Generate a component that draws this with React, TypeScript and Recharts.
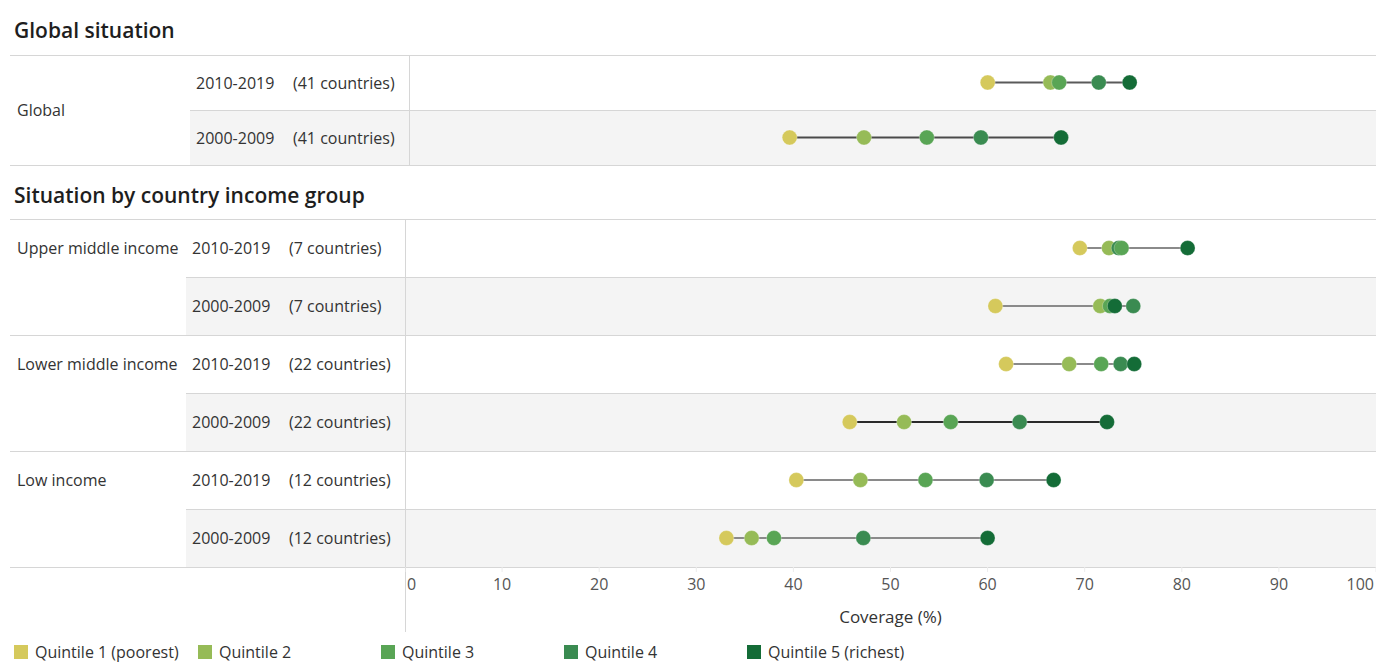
import { Scatter, ScatterChart, XAxis, YAxis } from "recharts";

const quintileNames = [
  "Quintile 1 (poorest)",
  "Quintile 2",
  "Quintile 3",
  "Quintile 4",
  "Quintile 5 (richest)",
];

const xTicks = [0, 10, 20, 30, 40, 50, 60, 70, 80, 90, 100];

// global panel
const globalGroups = ["Global"];
const globalPeriods = ["2010-2019", "2000-2009"];
const globalCountries = [41, 41];
const globalQ1 = [59.8, 39.3];
const globalQ2 = [66.3, 47.0];
const globalQ3 = [67.2, 53.5];
const globalQ4 = [71.3, 59.1];
const globalQ5 = [74.5, 67.4];

// income group panel
const incomeGroups = ["Upper middle income", "Lower middle income", "Low income"];
const incomePeriods = ["2010-2019", "2000-2009", "2010-2019", "2000-2009", "2010-2019", "2000-2009"];
const incomeCountries = [7, 7, 22, 22, 12, 12];
const incomeQ1 = [69.5, 60.8, 61.9, 45.8, 40.3, 33.1];
const incomeQ2 = [72.5, 71.6, 68.4, 51.4, 46.9, 35.7];
const incomeQ3 = [73.8, 72.6, 71.7, 56.2, 53.6, 38.0];
const incomeQ4 = [73.5, 75.0, 73.7, 63.3, 59.9, 47.2];
const incomeQ5 = [80.6, 73.1, 75.1, 72.3, 66.8, 60.0];

// styling
const quintileColors = ["#d5c95c", "#96bb57", "#59a555", "#3a8b51", "#146c37"];
const drawOrder = [0, 1, 3, 2, 4];
const globalLineTones = ["#5a5a5a", "#4a4a4a"];
const incomeLineTones = ["#8a8a8a", "#8a8a8a", "#8a8a8a", "#2a2a2a", "#8a8a8a", "#8a8a8a"];

const FONT = "'Open Sans', 'Noto Sans', sans-serif";
const TEXT = "#333";
const RULE = "#d6d6d6";
const BAND = "#f4f4f4";

type PanelProps = {
  periods: string[];
  values: number[][];
  tones: string[];
  width: number;
  rowHeight: number;
  showAxis?: boolean;
};

const renderTick = (props: any) => {
  const { x, y, payload } = props;
  const v = payload.value;
  const anchor = v === 0 ? "start" : v === 100 ? "end" : "middle";
  const dx = v === 0 ? 2 : v === 100 ? -2 : 0;
  return (
    <text x={x + dx} y={y} dy="0.71em" textAnchor={anchor} fill="#555" fontSize={16} fontFamily={FONT}>
      {v}
    </text>
  );
};

function DumbbellPanel({ periods, values, tones, width, rowHeight, showAxis }: PanelProps) {
  const n = periods.length;
  const axisHeight = showAxis ? 65 : 0;
  const series = values.map((q) => periods.map((_, i) => ({ x: q[i], y: i + 0.5 })));
  const spans = periods.map((_, i) => {
    const vals = values.map((q) => q[i]);
    return [
      { x: Math.min(...vals), y: i + 0.5 },
      { x: Math.max(...vals), y: i + 0.5 },
    ];
  });

  return (
    <ScatterChart width={width} height={n * rowHeight + axisHeight} margin={{ top: 0, right: 0, bottom: 0, left: 0 }}>
      <XAxis
        type="number"
        dataKey="x"
        domain={[0, 100]}
        ticks={xTicks}
        interval={0}
        hide={!showAxis}
        height={axisHeight}
        axisLine={false}
        tickLine={{ stroke: "#ececec" }}
        tickSize={5}
        tickMargin={7}
        tick={renderTick}
        label={{
          value: "Coverage (%)",
          position: "insideBottom",
          offset: 9,
          fill: TEXT,
          fontSize: 17,
          fontFamily: FONT,
        }}
      />
      <YAxis type="number" dataKey="y" domain={[0, n]} reversed hide />
      {spans.map((pts, i) => (
        <Scatter
          key={"span" + i}
          data={pts}
          fill={tones[i]}
          line={{ stroke: tones[i], strokeWidth: 2 }}
          shape={() => <g />}
          legendType="none"
          isAnimationActive={false}
        />
      ))}
      {drawOrder.map((q) => (
        <Scatter
          key={quintileNames[q]}
          name={quintileNames[q]}
          data={series[q]}
          fill={quintileColors[q]}
          shape={(p: any) => (
            <circle cx={p.cx} cy={p.cy} r={7.5} fill={quintileColors[q]} stroke="#fff" strokeOpacity={0.35} strokeWidth={0.8} />
          )}
          isAnimationActive={false}
        />
      ))}
    </ScatterChart>
  );
}

const abs = (left: number, top: number, extra: any = {}) => ({ position: "absolute" as const, left, top, ...extra });

function hLine(key: string, x1: number, y: number) {
  return <div key={key} style={abs(x1, y, { width: 1376 - x1, height: 1, background: RULE })} />;
}

function label(key: string, text: string, x: number, cy: number, extra: any = {}) {
  return (
    <div
      key={key}
      style={abs(x, cy - 12, {
        height: 24,
        lineHeight: "24px",
        fontSize: 16,
        color: TEXT,
        whiteSpace: "nowrap",
        ...extra,
      })}
    >
      {text}
    </div>
  );
}

export default function App() {
  // global panel geometry
  const gTop = 55;
  const gRow = 55;
  const gLeft = 190;
  // income panel geometry
  const iTop = 219;
  const iRow = 58;
  const iLeft = 186;

  const els: any[] = [];

  // titles
  els.push(
    <div key="t1" style={abs(14, 16, { fontSize: 21, fontWeight: 600, color: "#1e1e1e", lineHeight: "28px" })}>
      Global situation
    </div>
  );
  els.push(
    <div key="t2" style={abs(14, 181, { fontSize: 21, fontWeight: 600, color: "#1e1e1e", lineHeight: "28px" })}>
      Situation by country income group
    </div>
  );

  // global bands, rules, labels
  globalPeriods.forEach((p, i) => {
    const y = gTop + i * gRow;
    if (i % 2 === 1) els.push(<div key={"gb" + i} style={abs(gLeft, y, { width: 1376 - gLeft, height: gRow, background: BAND })} />);
    if (i > 0) els.push(hLine("gl" + i, gLeft, y));
    els.push(label("gp" + i, p, 196, y + gRow / 2));
    els.push(label("gc" + i, `(${globalCountries[i]} countries)`, 293, y + gRow / 2));
  });
  els.push(hLine("gtop", 10, gTop));
  els.push(hLine("gbot", 10, gTop + globalPeriods.length * gRow));
  els.push(label("gg", globalGroups[0], 17, gTop + (globalPeriods.length * gRow) / 2));
  els.push(<div key="gv" style={abs(409, gTop, { width: 1, height: globalPeriods.length * gRow, background: RULE })} />);

  // income bands, rules, labels
  incomePeriods.forEach((p, i) => {
    const y = iTop + i * iRow;
    if (i % 2 === 1) els.push(<div key={"ib" + i} style={abs(iLeft, y, { width: 1376 - iLeft, height: iRow, background: BAND })} />);
    els.push(hLine("il" + i, i % 2 === 0 ? 10 : iLeft, y));
    els.push(label("ip" + i, p, 192, y + iRow / 2));
    els.push(label("ic" + i, `(${incomeCountries[i]} countries)`, 289, y + iRow / 2));
  });
  incomeGroups.forEach((g, k) => {
    els.push(label("ig" + k, g, 17, iTop + k * 2 * iRow + iRow / 2));
  });
  els.push(hLine("ibot", 10, iTop + incomePeriods.length * iRow));
  els.push(<div key="iv" style={abs(405, iTop, { width: 1, height: incomePeriods.length * iRow + 65, background: RULE })} />);

  return (
    <div
      style={{
        position: "absolute",
        left: 0,
        top: 0,
        width: 1376,
        height: 664,
        overflow: "hidden",
        background: "#fff",
        fontFamily: FONT,
      }}
    >
      {els}
      <div style={abs(410, gTop)}>
        <DumbbellPanel
          periods={globalPeriods}
          values={[globalQ1, globalQ2, globalQ3, globalQ4, globalQ5]}
          tones={globalLineTones}
          width={966}
          rowHeight={gRow}
        />
      </div>
      <div style={abs(405, iTop)}>
        <DumbbellPanel
          periods={incomePeriods}
          values={[incomeQ1, incomeQ2, incomeQ3, incomeQ4, incomeQ5]}
          tones={incomeLineTones}
          width={971}
          rowHeight={iRow}
          showAxis
        />
      </div>
      {quintileNames.map((name, i) => {
        const x = [14, 198, 381, 564, 747][i];
        return (
          <div key={"lg" + i}>
            <div style={abs(x, 645, { width: 14, height: 14, background: quintileColors[i] })} />
            {label("lt" + i, name, x + 21, 652, { height: 20, lineHeight: "20px", top: 642 })}
          </div>
        );
      })}
    </div>
  );
}
